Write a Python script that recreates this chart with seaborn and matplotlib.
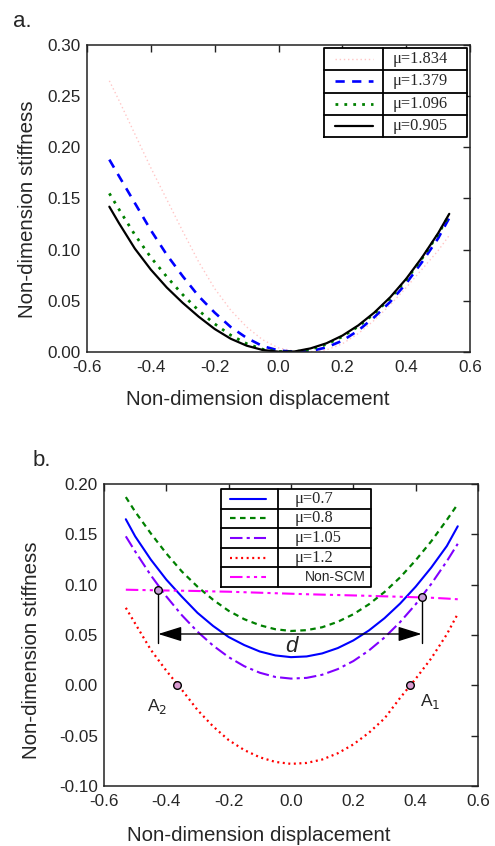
import matplotlib
matplotlib.use("Agg")
import matplotlib.pyplot as plt
import numpy as np
import pandas as pd
import seaborn as sns

# ---------------- data ----------------
xa = [-0.53, -0.50, -0.45, -0.40, -0.35, -0.30, -0.25, -0.20, -0.15, -0.10, -0.05, 0.00,
      0.05, 0.10, 0.15, 0.20, 0.25, 0.30, 0.35, 0.40, 0.45, 0.50, 0.535]
a_mu1834 = [0.265, 0.246, 0.213, 0.180, 0.149, 0.118, 0.088, 0.062, 0.041, 0.0245, 0.012, 0.004,
            0.0008, 0.0003, 0.002, 0.008, 0.018, 0.031, 0.046, 0.063, 0.081, 0.099, 0.114]
a_mu1379 = [0.188, 0.172, 0.1455, 0.119, 0.095, 0.074, 0.0545, 0.0385, 0.0245, 0.0138, 0.0058, 0.0015,
            0.0002, 0.0008, 0.0045, 0.011, 0.021, 0.034, 0.049, 0.067, 0.088, 0.111, 0.131]
a_mu1096 = [0.155, 0.1395, 0.1145, 0.0925, 0.0735, 0.056, 0.0405, 0.0275, 0.0165, 0.0082, 0.0027, 0.0004,
            0.0002, 0.0025, 0.0075, 0.015, 0.025, 0.0375, 0.0525, 0.0705, 0.0915, 0.115, 0.134]
a_mu0905 = [0.142, 0.126, 0.101, 0.0805, 0.063, 0.048, 0.0345, 0.0225, 0.013, 0.0062, 0.002, 0.0003,
            0.0005, 0.0035, 0.0085, 0.016, 0.026, 0.0385, 0.0535, 0.0715, 0.0925, 0.116, 0.135]
a_labels = ["\u03bc=1.834", "\u03bc=1.379", "\u03bc=1.096", "\u03bc=0.905"]

xb = xa
b_mu07 = [0.165, 0.148, 0.125, 0.105, 0.088, 0.072, 0.059, 0.048, 0.040, 0.0336, 0.0297, 0.028,
          0.0287, 0.0317, 0.037, 0.0446, 0.0545, 0.0667, 0.0812, 0.098, 0.117, 0.1384, 0.158]
b_mu08 = [0.187, 0.1725, 0.151, 0.131, 0.113, 0.098, 0.085, 0.074, 0.0657, 0.0597, 0.0557, 0.054,
          0.0548, 0.0577, 0.0631, 0.0706, 0.0805, 0.0927, 0.1072, 0.1242, 0.1431, 0.1643, 0.180]
b_mu105 = [0.148, 0.133, 0.1094, 0.0883, 0.0696, 0.0533, 0.0395, 0.028, 0.019, 0.0125, 0.0083, 0.0067,
           0.0074, 0.0105, 0.0161, 0.0241, 0.0346, 0.0475, 0.0628, 0.0805, 0.1007, 0.1233, 0.1406]
b_mu12 = [0.077, 0.0614, 0.0354, 0.0145, -0.0045, -0.0245, -0.0408, -0.0544, -0.0643, -0.0715, -0.0761, -0.078,
          -0.0771, -0.0737, -0.0675, -0.0587, -0.0471, -0.0329, -0.0125, 0.0065, 0.0268, 0.0507, 0.071]
b_nonscm = [0.095, 0.0948, 0.0945, 0.0942, 0.094, 0.0937, 0.0933, 0.093, 0.0925, 0.092, 0.0915, 0.091,
            0.0905, 0.0901, 0.0897, 0.0893, 0.0889, 0.0884, 0.088, 0.0875, 0.087, 0.0862, 0.0855]
b_labels = ["\u03bc=0.7", "\u03bc=0.8", "\u03bc=1.05", "\u03bc=1.2", "Non-SCM"]

# marked points in panel b
cross_x = [-0.426, 0.419]      # A2, A1 intersection with Non-SCM
cross_y = [0.095, 0.0875]
zero_x = [-0.365, 0.382]       # zero crossings of mu=1.2
zero_y = [0.0, 0.0]
arrow_y = 0.051
vline_bottom = 0.042

# ---------------- style ----------------
sns.set_style("white")
plt.rcParams["font.family"] = ["Liberation Sans", "DejaVu Sans"]
plt.rcParams["axes.unicode_minus"] = False
plt.rcParams["xtick.direction"] = "in"
plt.rcParams["ytick.direction"] = "in"

fig = plt.figure(figsize=(4.95, 8.46), dpi=100)
axA = fig.add_axes([87/495, 1-352/846, 383/495, 307/846])
axB = fig.add_axes([104/495, 1-786/846, 374/495, 302/846])

styles_a = [
    dict(color="#ffc6c6", lw=1.0, ls=(0, (1, 2))),
    dict(color="#0000ff", lw=1.9, ls=(0, (3.5, 2.8))),
    dict(color="#008000", lw=2.0, ls=(0, (1, 2.2))),
    dict(color="#000000", lw=1.6, ls="-"),
]
series_a = [a_mu1834, a_mu1379, a_mu1096, a_mu0905]

styles_b = [
    dict(color="#0000ff", lw=1.5, ls="-"),
    dict(color="#008000", lw=1.6, ls=(0, (2.5, 2))),
    dict(color="#8000ff", lw=1.5, ls=(0, (6, 2, 1.5, 2))),
    dict(color="#ff0000", lw=1.6, ls=(0, (0.9, 1.6))),
    dict(color="#ff00ff", lw=1.5, ls=(0, (6, 2, 1.5, 2, 1.5, 2))),
]
series_b = [b_mu07, b_mu08, b_mu105, b_mu12, b_nonscm]

for ys, st in zip(series_a, styles_a):
    df = pd.DataFrame({"x": xa, "y": ys})
    sns.lineplot(data=df, x="x", y="y", ax=axA, color=st["color"], linewidth=st["lw"],
                 linestyle=st["ls"], sort=False, estimator=None, legend=False)

for ys, st in zip(series_b, styles_b):
    df = pd.DataFrame({"x": xb, "y": ys})
    sns.lineplot(data=df, x="x", y="y", ax=axB, color=st["color"], linewidth=st["lw"],
                 linestyle=st["ls"], sort=False, estimator=None, legend=False)

# annotations panel b
for cx, cy in zip(cross_x, cross_y):
    axB.plot([cx, cx], [cy, vline_bottom], color="black", lw=1.0, zorder=4)
axB.annotate("", xy=(cross_x[0], arrow_y), xytext=(cross_x[1], arrow_y),
             arrowprops=dict(arrowstyle="<|-|>,head_length=0.8,head_width=0.25",
                             color="black", lw=1.0, mutation_scale=18,
                             shrinkA=0, shrinkB=0), zorder=5)
axB.plot(cross_x, cross_y, ls="none", marker="o", ms=5.5, mfc="#c8a0d8", mec="black", mew=1.0, zorder=6)
axB.plot(zero_x, zero_y, ls="none", marker="o", ms=5.5, mfc="#d89ad0", mec="black", mew=1.0, zorder=6)
axB.text(0.0, 0.0385, "d", fontsize=16, style="italic", ha="center", va="center")
axB.text(-0.43, -0.021, "A$_2$", fontsize=12.5, ha="center", va="center")
axB.text(0.446, -0.0156, "A$_1$", fontsize=12.5, ha="center", va="center")

# axes formatting
def fmt(ax, ylim, yticks, ylabel_xy, xlabel_xy):
    ax.set_xlim(-0.6, 0.6)
    ax.set_ylim(*ylim)
    ax.set_xticks(np.arange(-0.6, 0.61, 0.2))
    ax.set_xticklabels(["-0.6", "-0.4", "-0.2", "0.0", "0.2", "0.4", "0.6"])
    ax.set_yticks(yticks)
    ax.set_yticklabels(["%.2f" % v for v in yticks])
    ax.tick_params(axis="both", which="major", direction="in", length=5, width=1.0,
                   labelsize=12.3, top=True, right=True, color="#222222")
    ax.tick_params(axis="x", pad=6)
    ax.tick_params(axis="y", pad=4.5)
    for s in ax.spines.values():
        s.set_visible(True)
        s.set_linewidth(1.1)
        s.set_color("#222222")
    ax.set_xlabel("Non-dimension displacement", fontsize=14.8)
    ax.set_ylabel("Non-dimension stiffness", fontsize=14.8)
    ax.yaxis.set_label_coords(*ylabel_xy)
    ax.xaxis.set_label_coords(*xlabel_xy)

fmt(axA, (0, 0.30), [0.0, 0.05, 0.10, 0.15, 0.20, 0.25, 0.30], (-0.13, 0.466), (0.445, -0.124))
fmt(axB, (-0.10, 0.20), [-0.10, -0.05, 0.0, 0.05, 0.10, 0.15, 0.20], (-0.168, 0.45), (0.414, -0.132))

# table-like legends
def table_legend(ax, x0, xm, x1, ytop, ybot, labels, styles, fonts, text_dx, samp):
    n = len(labels)
    kw = dict(transform=ax.transAxes, color="black", lw=1.3, clip_on=False, zorder=7)
    ax.add_patch(plt.Rectangle((x0, ybot), x1 - x0, ytop - ybot, transform=ax.transAxes,
                               facecolor="white", edgecolor="none", zorder=6))
    ax.plot([x0, x1, x1, x0, x0], [ybot, ybot, ytop, ytop, ybot], **kw)
    ax.plot([xm, xm], [ybot, ytop], **kw)
    h = (ytop - ybot) / n
    for i in range(1, n):
        yy = ytop - i * h
        ax.plot([x0, x1], [yy, yy], **kw)
    for i, (lab, st, ft) in enumerate(zip(labels, styles, fonts)):
        yc = ytop - (i + 0.5) * h
        ax.plot([samp[0], samp[1]], [yc, yc], transform=ax.transAxes, color=st["color"],
                lw=st["lw"], ls=st["ls"], clip_on=False, zorder=8)
        ax.text(xm + text_dx[i], yc, lab, transform=ax.transAxes, va="center", ha="left",
                zorder=8, **ft)

serif = dict(family=["Liberation Serif", "DejaVu Serif"], fontsize=11.8)
sans = dict(family=["Liberation Sans", "DejaVu Sans"], fontsize=10)

table_legend(axA, 0.619, 0.773, 0.992, 0.990, 0.700, a_labels, styles_a,
             [serif] * 4, [0.026] * 4, (0.648, 0.747))
table_legend(axB, 0.313, 0.465, 0.714, 0.983, 0.659, b_labels, styles_b,
             [serif] * 4 + [sans], [0.045] * 4 + [0.072], (0.336, 0.433))

fig.text(13/495, 1-27/846, "a.", fontsize=16, va="baseline", ha="left")
fig.text(33/495, 1-466/846, "b.", fontsize=16, va="baseline", ha="left")

fig.savefig("out.png", dpi=100)
